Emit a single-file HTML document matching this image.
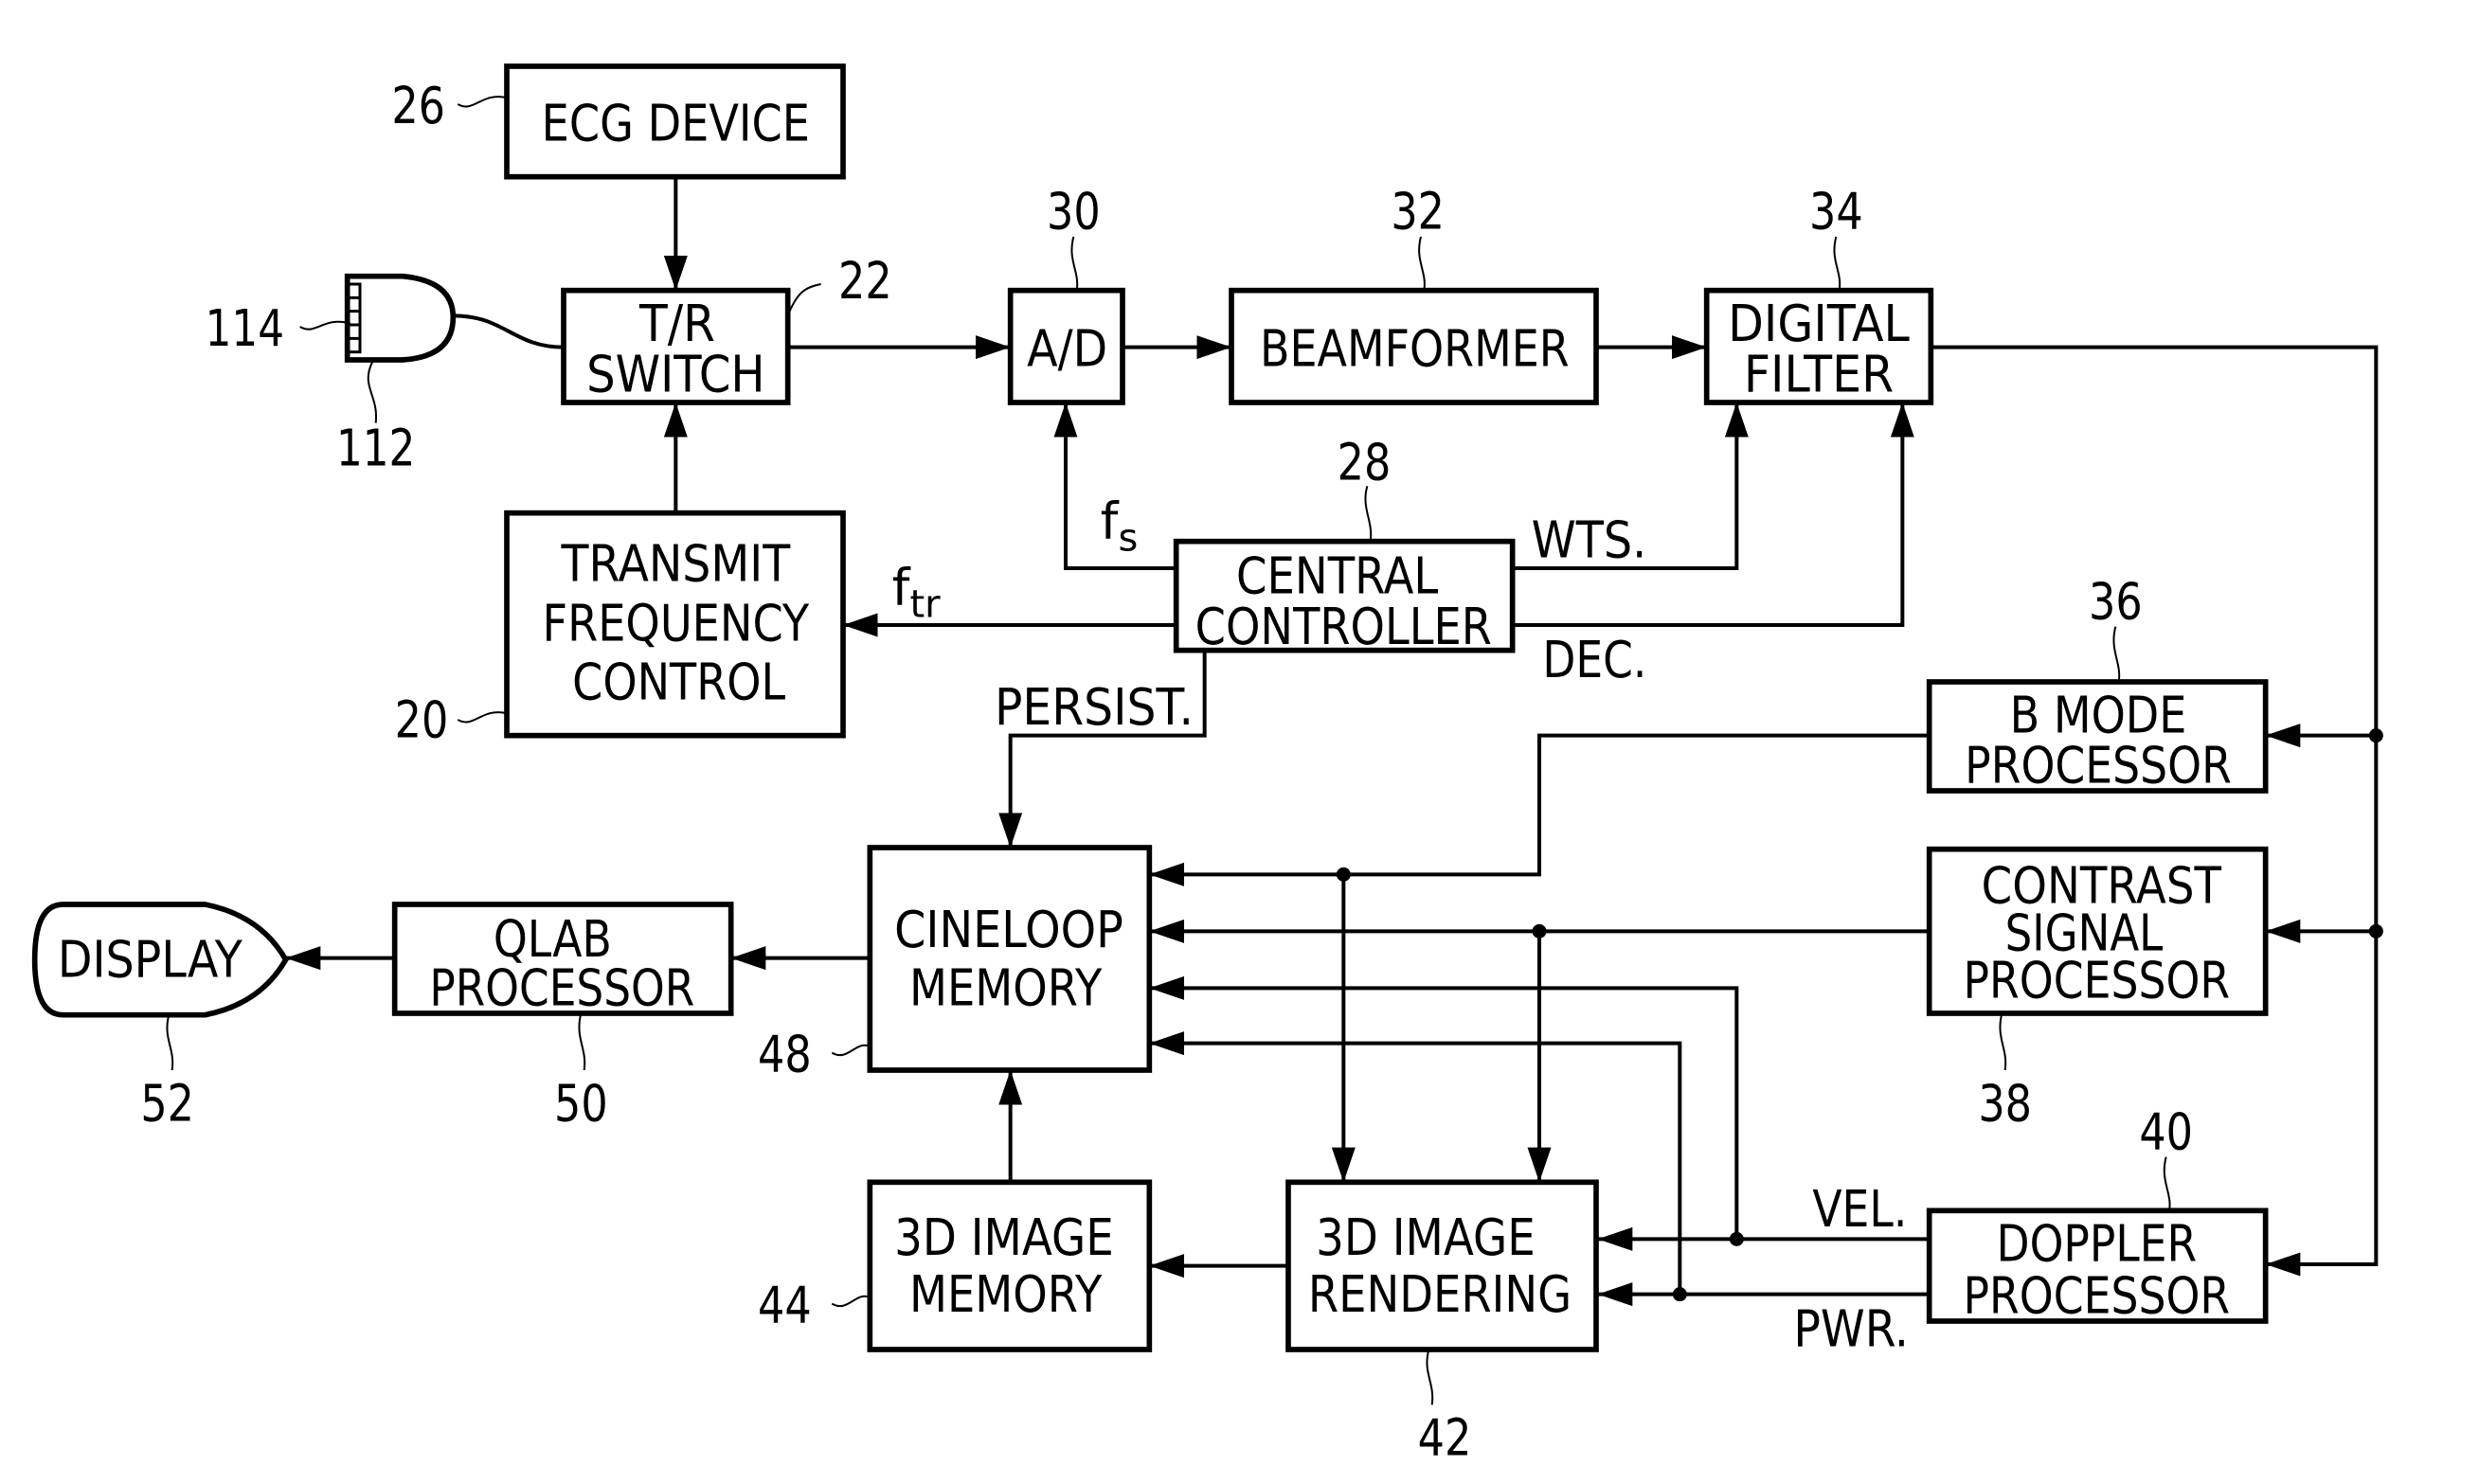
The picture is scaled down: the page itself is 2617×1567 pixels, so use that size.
<!DOCTYPE html>
<html><head><meta charset="utf-8"><style>
html,body{margin:0;padding:0;background:#fff;width:2617px;height:1567px;overflow:hidden}
svg{display:block}
text{font-family:"DejaVu Sans","Liberation Sans",sans-serif;font-size:32px;fill:#000}
</style></head><body>
<svg width="2617" height="1567" viewBox="0 0 1570.2 940.2" preserveAspectRatio="none" xmlns="http://www.w3.org/2000/svg">
<defs>
<marker id="a" markerUnits="userSpaceOnUse" markerWidth="24" markerHeight="16" refX="22" refY="7.5" orient="auto"><path d="M0,0 L22,7.5 L0,15 z" fill="#000"/></marker>
</defs>
<g fill="none" stroke="#000" stroke-width="3.4">
<rect x="321" y="42" width="213" height="70"/>
<rect x="357" y="184" width="142" height="71"/>
<rect x="321" y="325" width="213" height="141"/>
<rect x="640" y="184" width="71" height="71"/>
<rect x="780" y="184" width="231" height="71"/>
<rect x="1081" y="184" width="142" height="71"/>
<rect x="745" y="343" width="213" height="69"/>
<rect x="1222" y="432" width="213" height="69"/>
<rect x="1222" y="538" width="213" height="104"/>
<rect x="1222" y="767" width="213" height="70"/>
<rect x="551" y="537" width="177" height="141"/>
<rect x="816" y="749" width="195" height="106"/>
<rect x="551" y="749" width="177" height="106"/>
<rect x="250" y="573" width="213" height="69"/>
<path d="M40,573 H130 Q165,580 181,608 Q165,636 130,643 H40 Q22,643 22,608 Q22,573 40,573 Z"/>
<path d="M220,175 H255 Q287,178 287,201 Q287,226 255,228 H220 Z"/>
</g>
<g fill="none" stroke="#000" stroke-width="1.8">
<rect x="220" y="180" width="8" height="43"/>
<path d="M220,188.6 H228 M220,197.2 H228 M220,205.8 H228 M220,214.4 H228"/>
</g>
<g fill="none" stroke="#000" stroke-width="2.4">
<path d="M428,112 V184" marker-end="url(#a)"/>
<path d="M428,325 V255" marker-end="url(#a)"/>
<path d="M499,220 H640" marker-end="url(#a)"/>
<path d="M711,220 H780" marker-end="url(#a)"/>
<path d="M1011,220 H1081" marker-end="url(#a)"/>
<path d="M1223,220 H1505 V801 H1435" marker-end="url(#a)"/>
<path d="M1505,466 H1435" marker-end="url(#a)"/>
<path d="M1505,590 H1435" marker-end="url(#a)"/>
<path d="M745,360 H675 V255" marker-end="url(#a)"/>
<path d="M745,396 H534" marker-end="url(#a)"/>
<path d="M958,360 H1100 V255" marker-end="url(#a)"/>
<path d="M958,396 H1205 V255" marker-end="url(#a)"/>
<path d="M763,412 V466 H640 V537" marker-end="url(#a)"/>
<path d="M1222,466 H975 V554 H728" marker-end="url(#a)"/>
<path d="M1222,590 H728" marker-end="url(#a)"/>
<path d="M1100,785 V626 H728" marker-end="url(#a)"/>
<path d="M1064,820 V661 H728" marker-end="url(#a)"/>
<path d="M1222,785 H1012" marker-end="url(#a)"/>
<path d="M1222,820 H1012" marker-end="url(#a)"/>
<path d="M851,554 V749" marker-end="url(#a)"/>
<path d="M975,590 V749" marker-end="url(#a)"/>
<path d="M816,802 H728" marker-end="url(#a)"/>
<path d="M640,749 V678" marker-end="url(#a)"/>
<path d="M551,607 H463" marker-end="url(#a)"/>
<path d="M250,607 H181" marker-end="url(#a)"/>
<path d="M287,200 C320,200 325,220 357,220"/>
</g>
<g fill="#000">
<circle cx="1505" cy="466" r="4.5"/><circle cx="1505" cy="590" r="4.5"/>
<circle cx="851" cy="554" r="4.5"/><circle cx="975" cy="590" r="4.5"/>
<circle cx="1100" cy="785" r="4.5"/><circle cx="1064" cy="820" r="4.5"/>
</g>
<g fill="none" stroke="#000" stroke-width="1.2">
<path d="M290,66 C300,72 305,58 321,62"/>
<path d="M499,200 C505,185 510,182 520,180"/>
<path d="M190,207 C200,213 205,200 222,205"/>
<path d="M236,229 C228,245 240,250 238,268"/>
<path d="M290,456 C300,462 305,448 321,452"/>
<path d="M680,150 C676,165 684,172 682,184"/>
<path d="M900,150 C896,165 904,172 902,184"/>
<path d="M1163,150 C1159,165 1167,172 1165,184"/>
<path d="M866,308 C862,322 870,330 868,343"/>
<path d="M1340,397 C1336,412 1344,420 1342,432"/>
<path d="M1268,642 C1264,658 1272,664 1270,678"/>
<path d="M1372,733 C1368,748 1376,756 1374,767"/>
<path d="M905,855 C901,870 909,876 907,890"/>
<path d="M527,667 C537,673 542,659 551,663"/>
<path d="M527,826 C537,832 542,818 551,822"/>
<path d="M368,642 C364,658 372,664 370,678"/>
<path d="M107,643 C103,658 111,664 109,678"/>
</g>
<g text-anchor="middle">
<text x="428" y="89" textLength="170" lengthAdjust="spacingAndGlyphs">ECG DEVICE</text>
<text x="429" y="216" textLength="48" lengthAdjust="spacingAndGlyphs">T/R</text>
<text x="428" y="248" textLength="113" lengthAdjust="spacingAndGlyphs">SWITCH</text>
<text x="676" y="232" textLength="51" lengthAdjust="spacingAndGlyphs">A/D</text>
<text x="896" y="232" textLength="196" lengthAdjust="spacingAndGlyphs">BEAMFORMER</text>
<text x="1152" y="216" textLength="115" lengthAdjust="spacingAndGlyphs">DIGITAL</text>
<text x="1152" y="248" textLength="95" lengthAdjust="spacingAndGlyphs">FILTER</text>
<text x="428" y="368" textLength="145" lengthAdjust="spacingAndGlyphs">TRANSMIT</text>
<text x="428" y="406" textLength="169" lengthAdjust="spacingAndGlyphs">FREQUENCY</text>
<text x="430" y="443" textLength="135" lengthAdjust="spacingAndGlyphs">CONTROL</text>
<text x="847" y="376" textLength="128" lengthAdjust="spacingAndGlyphs">CENTRAL</text>
<text x="851" y="408" textLength="188" lengthAdjust="spacingAndGlyphs">CONTROLLER</text>
<text x="1329" y="464" textLength="112" lengthAdjust="spacingAndGlyphs">B MODE</text>
<text x="1329" y="496" textLength="169" lengthAdjust="spacingAndGlyphs">PROCESSOR</text>
<text x="1331" y="572" textLength="152" lengthAdjust="spacingAndGlyphs">CONTRAST</text>
<text x="1320" y="602" textLength="100" lengthAdjust="spacingAndGlyphs">SIGNAL</text>
<text x="1328" y="632" textLength="169" lengthAdjust="spacingAndGlyphs">PROCESSOR</text>
<text x="1328" y="799" textLength="127" lengthAdjust="spacingAndGlyphs">DOPPLER</text>
<text x="1328" y="832" textLength="169" lengthAdjust="spacingAndGlyphs">PROCESSOR</text>
<text x="639" y="600" textLength="145" lengthAdjust="spacingAndGlyphs">CINELOOP</text>
<text x="637" y="637" textLength="122" lengthAdjust="spacingAndGlyphs">MEMORY</text>
<text x="636" y="795" textLength="139" lengthAdjust="spacingAndGlyphs">3D IMAGE</text>
<text x="637" y="831" textLength="122" lengthAdjust="spacingAndGlyphs">MEMORY</text>
<text x="903" y="795" textLength="139" lengthAdjust="spacingAndGlyphs">3D IMAGE</text>
<text x="912" y="831" textLength="167" lengthAdjust="spacingAndGlyphs">RENDERING</text>
<text x="350" y="606" textLength="75" lengthAdjust="spacingAndGlyphs">QLAB</text>
<text x="356" y="637" textLength="168" lengthAdjust="spacingAndGlyphs">PROCESSOR</text>
<text x="95" y="619" textLength="117" lengthAdjust="spacingAndGlyphs">DISPLAY</text>
<text x="265" y="78" textLength="34" lengthAdjust="spacingAndGlyphs">26</text>
<text x="548" y="189" textLength="34" lengthAdjust="spacingAndGlyphs">22</text>
<text x="155" y="219" textLength="50" lengthAdjust="spacingAndGlyphs">114</text>
<text x="238" y="295" textLength="50" lengthAdjust="spacingAndGlyphs">112</text>
<text x="267" y="467" textLength="34" lengthAdjust="spacingAndGlyphs">20</text>
<text x="680" y="145" textLength="34" lengthAdjust="spacingAndGlyphs">30</text>
<text x="898" y="145" textLength="34" lengthAdjust="spacingAndGlyphs">32</text>
<text x="1163" y="145" textLength="34" lengthAdjust="spacingAndGlyphs">34</text>
<text x="864" y="304" textLength="34" lengthAdjust="spacingAndGlyphs">28</text>
<text x="1340" y="392" textLength="34" lengthAdjust="spacingAndGlyphs">36</text>
<text x="1270" y="710" textLength="34" lengthAdjust="spacingAndGlyphs">38</text>
<text x="1372" y="728" textLength="34" lengthAdjust="spacingAndGlyphs">40</text>
<text x="915" y="922" textLength="34" lengthAdjust="spacingAndGlyphs">42</text>
<text x="497" y="838" textLength="34" lengthAdjust="spacingAndGlyphs">44</text>
<text x="497" y="679" textLength="34" lengthAdjust="spacingAndGlyphs">48</text>
<text x="368" y="710" textLength="34" lengthAdjust="spacingAndGlyphs">50</text>
<text x="106" y="710" textLength="34" lengthAdjust="spacingAndGlyphs">52</text>
</g>
<g>
<text x="697" y="341">f<tspan font-size="24" dy="8">s</tspan></text>
<text x="565" y="383">f<tspan font-size="24" dy="8">tr</tspan></text>
<text x="970" y="353" textLength="73" lengthAdjust="spacingAndGlyphs">WTS.</text>
<text x="977" y="429" textLength="66" lengthAdjust="spacingAndGlyphs">DEC.</text>
<text x="630" y="459" textLength="126" lengthAdjust="spacingAndGlyphs">PERSIST.</text>
<text x="1148" y="777" textLength="60" lengthAdjust="spacingAndGlyphs">VEL.</text>
<text x="1136" y="853" textLength="73" lengthAdjust="spacingAndGlyphs">PWR.</text>
</g>
</svg>
</body></html>
